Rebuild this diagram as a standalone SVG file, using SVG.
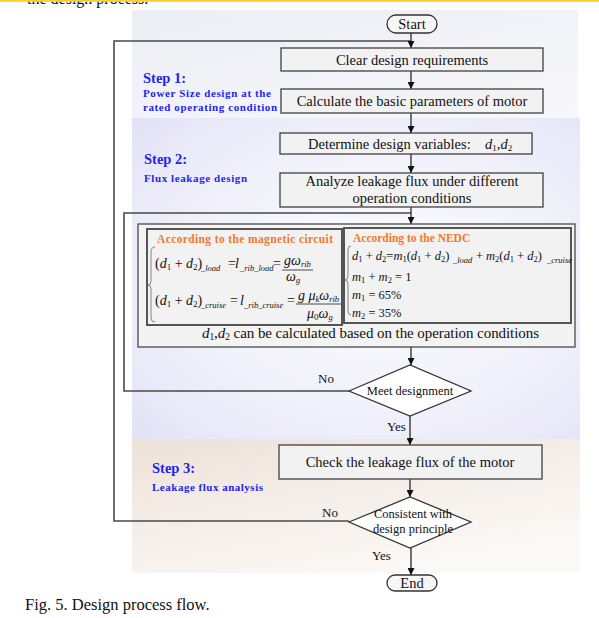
<svg xmlns="http://www.w3.org/2000/svg" width="599" height="618" viewBox="0 0 599 618">
<defs>
<style>
text{font-family:"Liberation Serif","Times New Roman",serif;fill:#111}
.n{font-size:14.5px;text-anchor:middle}
.sm{font-size:12.5px;text-anchor:middle}
.st{font-family:"Liberation Serif",serif;font-weight:bold;fill:#2424ee;font-size:14.5px}
.sd{font-family:"Liberation Serif",serif;font-weight:bold;fill:#2424ee;font-size:11px}
.or{font-weight:bold;fill:#f3792e;font-size:11.5px}
.m{font-size:14px}
.mr{font-size:12.5px}
.i{font-style:italic}
.s{font-style:italic;font-size:8.5px}
.box{fill:#f2f2f2;stroke:#404040;stroke-width:1.3}
.term{fill:#f6f6f6;stroke:#333;stroke-width:1.3}
.dia{fill:#fff;stroke:#333;stroke-width:1.3}
.c{fill:none;stroke:#2a2a2a;stroke-width:1.3}
.loop{fill:none;stroke:#4a4a4a;stroke-width:1.6}
.br{fill:none;stroke:#777;stroke-width:0.9}
</style>
<marker id="ar" viewBox="0 0 10 10" refX="10" refY="5" markerWidth="7" markerHeight="7" markerUnits="userSpaceOnUse" orient="auto">
<path d="M0,0 L10,5 L0,10 z" fill="#111"/>
</marker>
<linearGradient id="g1" x1="0" y1="0" x2="1" y2="1">
<stop offset="0" stop-color="#eceef5"/>
<stop offset="1" stop-color="#f8f8fb"/>
</linearGradient>
<radialGradient id="g2" cx="0.55" cy="0.5" r="0.75">
<stop offset="0" stop-color="#fbfbff"/>
<stop offset="0.6" stop-color="#f0f0fb"/>
<stop offset="1" stop-color="#e2e2f6"/>
</radialGradient>
<linearGradient id="g3" x1="0" y1="0" x2="0.6" y2="1">
<stop offset="0" stop-color="#eee2d8"/>
<stop offset="1" stop-color="#fbf9f7"/>
</linearGradient>
<clipPath id="topclip"><rect x="0" y="0" width="599" height="12"/></clipPath>
</defs>

<rect x="0" y="0" width="599" height="618" fill="#fff"/>
<text x="27" y="4" font-size="16" clip-path="url(#topclip)">the design process.</text>
<rect x="0" y="0" width="599" height="1.8" fill="#f4d232"/>

<g id="panels">
<rect x="132" y="10" width="446" height="108" fill="url(#g1)"/>
<rect x="132" y="118" width="448" height="321" fill="url(#g2)"/>
<rect x="132" y="439" width="448" height="134" fill="url(#g3)"/>
</g>

<g id="step-labels">
<text class="st" x="143" y="83">Step 1:</text>
<text class="sd" x="143" y="97" textLength="128">Power Size design at the</text>
<text class="sd" x="143" y="111" textLength="134">rated operating condition</text>
<text class="st" x="144" y="164">Step 2:</text>
<text class="sd" x="144" y="182" textLength="103">Flux leakage design</text>
<text class="st" x="152" y="473">Step 3:</text>
<text class="sd" x="152" y="491" textLength="111">Leakage flux analysis</text>
</g>

<g id="connectors">
<polyline class="loop" points="349,521 114,521 114,41 411,41"/>
<polyline class="loop" points="349,391 124,391 124,213 411,213"/>
<line class="c" x1="411" y1="33" x2="411" y2="48" marker-end="url(#ar)"/>
<line class="c" x1="411" y1="71" x2="411" y2="89" marker-end="url(#ar)"/>
<line class="c" x1="411" y1="113" x2="411" y2="133" marker-end="url(#ar)"/>
<line class="c" x1="411" y1="154" x2="411" y2="173" marker-end="url(#ar)"/>
<line class="c" x1="411" y1="207" x2="411" y2="224" marker-end="url(#ar)"/>
<line class="c" x1="411" y1="347" x2="411" y2="365" marker-end="url(#ar)"/>
<line class="c" x1="410" y1="416" x2="410" y2="445" marker-end="url(#ar)"/>
<line class="c" x1="410" y1="479" x2="410" y2="497" marker-end="url(#ar)"/>
<line class="c" x1="411" y1="548" x2="411" y2="575" marker-end="url(#ar)"/>
<text x="318" y="383" font-size="13">No</text>
<text x="387" y="431" font-size="13">Yes</text>
<text x="322" y="517" font-size="13">No</text>
<text x="372" y="560" font-size="13">Yes</text>
</g>

<g id="start">
<rect class="term" x="387" y="15" width="50" height="18" rx="9"/>
<text class="n" x="412" y="29">Start</text>
</g>

<g id="clear">
<rect class="box" x="281" y="48" width="262" height="23"/>
<text class="n" x="412" y="65">Clear design requirements</text>
</g>

<g id="calc">
<rect class="box" x="281" y="89" width="262" height="24"/>
<text class="n" x="412" y="106">Calculate the basic parameters of motor</text>
</g>

<g id="determine">
<rect class="box" x="280" y="133" width="252" height="21"/>
<text x="308" y="149" font-size="14.5">Determine design variables:</text>
<text x="485" y="149" font-size="14.5"><tspan class="i">d</tspan><tspan font-size="9" dy="2">1</tspan><tspan dy="-2">,</tspan><tspan class="i">d</tspan><tspan font-size="9" dy="2">2</tspan></text>
</g>

<g id="analyze">
<rect class="box" x="280" y="173" width="263" height="34"/>
<text class="n" x="412" y="186">Analyze leakage flux under different</text>
<text class="n" x="412" y="203">operation conditions</text>
</g>

<g id="calc-box">
<rect x="138" y="224" width="437" height="123" fill="#f3f3f3" stroke="#4a4a4a" stroke-width="1.3"/>
<text x="202" y="338" font-size="15" textLength="337"><tspan class="i">d</tspan><tspan font-size="9.5" dy="2">1</tspan><tspan dy="-2">,</tspan><tspan class="i">d</tspan><tspan font-size="9.5" dy="2">2</tspan><tspan dy="-2"> can be calculated based on the operation conditions</tspan></text>
</g>

<g id="magnetic">
<rect x="147" y="229" width="195" height="96" fill="#f2f2f2" stroke="#555" stroke-width="2"/>
<text class="or" x="245" y="243" text-anchor="middle" textLength="176">According to the magnetic circuit</text>
<path class="br" d="M155,247 Q151,247 151,252 L151,281 Q151,285 148,285 Q151,285 151,289 L151,318 Q151,322 155,322"/>
<text class="m" x="155" y="268">(<tspan class="i">d</tspan><tspan font-size="9" dy="2">1</tspan><tspan dy="-2"> + </tspan><tspan class="i">d</tspan><tspan font-size="9" dy="2">2</tspan><tspan dy="-2">)</tspan></text>
<text class="s" x="201" y="271">_load</text>
<text class="m" x="228" y="268">=</text>
<text class="m i" x="235" y="268">l</text>
<text class="s" x="240" y="271">_rib_load</text>
<text class="m" x="273" y="268">=</text>
<text class="m" x="284" y="265"><tspan class="i">gω</tspan><tspan class="s" dy="2">rib</tspan></text>
<line x1="282" y1="270" x2="313" y2="270" stroke="#222" stroke-width="0.8"/>
<text class="m" x="286" y="281"><tspan class="i">ω</tspan><tspan class="s" dy="2">g</tspan></text>
<text class="m" x="155" y="305">(<tspan class="i">d</tspan><tspan font-size="9" dy="2">1</tspan><tspan dy="-2"> + </tspan><tspan class="i">d</tspan><tspan font-size="9" dy="2">2</tspan><tspan dy="-2">)</tspan></text>
<text class="s" x="201" y="308">_cruise</text>
<text class="m" x="230" y="305">=</text>
<text class="m i" x="240" y="305">l</text>
<text class="s" x="244" y="308">_rib_cruise</text>
<text class="m" x="287" y="305">=</text>
<text class="m" x="298" y="300"><tspan class="i">g μ</tspan><tspan class="s" dy="2">k</tspan><tspan class="i" dy="-2">ω</tspan><tspan class="s" dy="2">rib</tspan></text>
<line x1="296" y1="304" x2="341" y2="304" stroke="#222" stroke-width="0.8"/>
<text class="m" x="307" y="318"><tspan class="i">μ</tspan><tspan font-size="9" dy="2">0</tspan><tspan class="i" dy="-2">ω</tspan><tspan class="s" dy="2">g</tspan></text>
</g>

<g id="nedc">
<rect x="344" y="228" width="227" height="95" fill="#f2f2f2" stroke="#555" stroke-width="2"/>
<text class="or" x="353" y="242">According to the NEDC</text>
<path class="br" d="M351,246 Q348,246 348,250 L348,276 Q348,280 345,280 Q348,280 348,284 L348,311 Q348,315 351,315"/>
<text class="mr" x="352" y="260"><tspan class="i">d</tspan><tspan font-size="8.5" dy="2">1</tspan><tspan dy="-2"> + </tspan><tspan class="i">d</tspan><tspan font-size="8.5" dy="2">2</tspan><tspan dy="-2">=</tspan><tspan class="i">m</tspan><tspan font-size="8.5" dy="2">1</tspan><tspan dy="-2">(</tspan><tspan class="i">d</tspan><tspan font-size="8.5" dy="2">1</tspan><tspan dy="-2"> + </tspan><tspan class="i">d</tspan><tspan font-size="8.5" dy="2">2</tspan><tspan dy="-2">)</tspan></text>
<text class="s" x="453" y="263" font-size="8">_load</text>
<text class="mr" x="476" y="260">+</text>
<text class="mr" x="486" y="260"><tspan class="i">m</tspan><tspan font-size="8.5" dy="2">2</tspan><tspan dy="-2">(</tspan><tspan class="i">d</tspan><tspan font-size="8.5" dy="2">1</tspan><tspan dy="-2"> + </tspan><tspan class="i">d</tspan><tspan font-size="8.5" dy="2">2</tspan><tspan dy="-2">)</tspan></text>
<text class="s" x="547" y="263" font-size="8">_cruise</text>
<text class="mr" x="352" y="281"><tspan class="i">m</tspan><tspan font-size="8.5" dy="2">1</tspan><tspan dy="-2"> + </tspan><tspan class="i">m</tspan><tspan font-size="8.5" dy="2">2</tspan><tspan dy="-2"> = 1</tspan></text>
<text class="mr" x="352" y="299"><tspan class="i">m</tspan><tspan font-size="8.5" dy="2">1</tspan><tspan dy="-2"> = 65%</tspan></text>
<text class="mr" x="352" y="317"><tspan class="i">m</tspan><tspan font-size="8.5" dy="2">2</tspan><tspan dy="-2"> = 35%</tspan></text>
</g>

<g id="meet">
<polygon class="dia" points="349,391 410,365 471,391 410,416"/>
<text class="sm" x="410" y="395">Meet designment</text>
</g>

<g id="check">
<rect class="box" x="279" y="445" width="263" height="34"/>
<text class="n" x="410" y="467">Check the leakage flux of the motor</text>
</g>

<g id="consistent">
<polygon class="dia" points="349,522 410,497 471,522 410,548"/>
<text class="sm" x="413" y="518">Consistent with</text>
<text class="sm" x="413" y="533">design principle</text>
</g>

<g id="end">
<rect class="term" x="387" y="575" width="50" height="16" rx="8"/>
<text class="n" x="412" y="588">End</text>
</g>

<text x="25" y="610" font-size="16.5">Fig. 5. Design process flow.</text>
</svg>
